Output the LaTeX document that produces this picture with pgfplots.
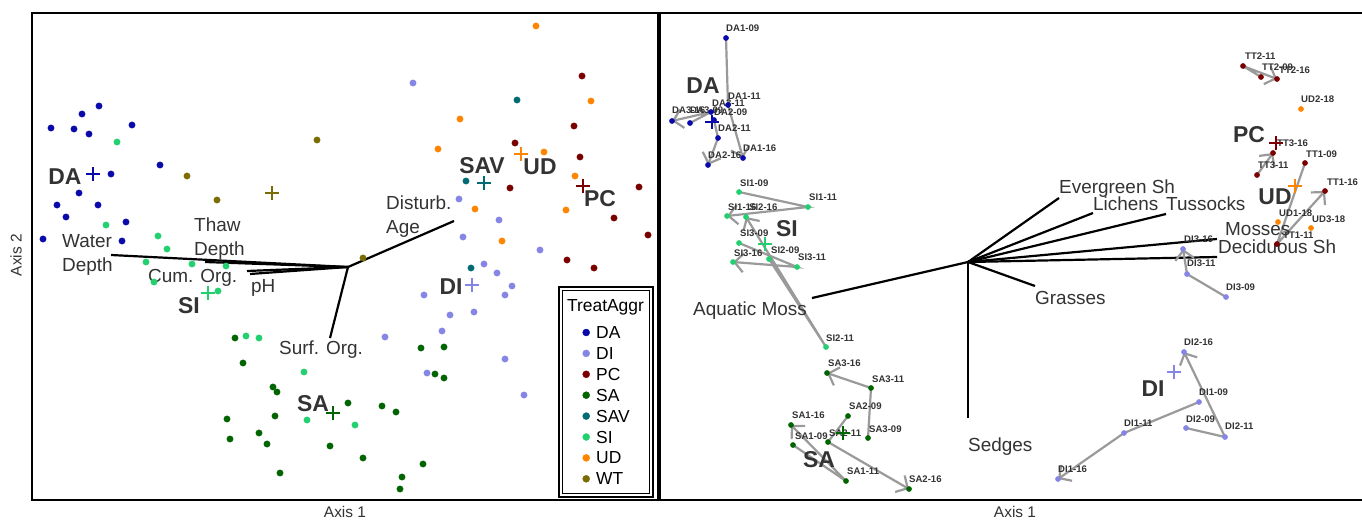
\documentclass[border=0pt]{standalone}
\usepackage{fontspec}
\setmainfont{Liberation Sans}
\usepackage{pgfplots}
\pgfplotsset{compat=1.18}
\usetikzlibrary{arrows.meta}
\definecolor{cDA}{HTML}{0A0AAA}
\definecolor{cDI}{HTML}{8585E6}
\definecolor{cPC}{HTML}{7A0000}
\definecolor{cSA}{HTML}{006400}
\definecolor{cSAV}{HTML}{006B73}
\definecolor{cSI}{HTML}{22D070}
\definecolor{cUD}{HTML}{FF8500}
\definecolor{cWT}{HTML}{7A6C00}
\definecolor{txt}{HTML}{333333}
\definecolor{arr}{HTML}{9A9A9A}
\newcommand{\vlab}{\fontsize{19}{24}\selectfont}
\newcommand{\glab}{\fontsize{23}{26}\selectfont\bfseries}
\newcommand{\plab}{\fontsize{9.6}{11}\selectfont\bfseries}
\newcommand{\alab}{\fontsize{15.5}{18}\selectfont}
\pgfplotsset{panel/.style={scale only axis, height=487bp, ymin=13, ymax=500, y dir=reverse,
  xtick=\empty, ytick=\empty, axis line style={line width=2.4bp}, clip=false}}
\tikzset{vl/.style={anchor=west, inner sep=0pt, text=txt, font=\vlab, align=left},
  gl/.style={inner sep=0pt, text=txt, font=\glab},
  pl/.style={anchor=west, inner sep=0pt, text=txt, font=\plab}}
\pgfplotsset{
  pts/.style={only marks, mark=*, mark size=3.2bp},
  cen/.style={only marks, mark=+, mark size=7bp, mark options={line width=1.5bp}, forget plot},
  vec/.style={black, line width=2.2bp, forget plot},
  traj/.style={arr, line width=2.2bp, -{Straight Barb[length=9bp,width=19bp]}, forget plot},
  rpts/.style={only marks, mark=*, mark size=2.6bp, forget plot}}
\begin{document}
\begin{tikzpicture}
\path[use as bounding box, fill=white] (0,0) rectangle (1362bp,524bp);
% ---------------- left panel ----------------
\begin{axis}[panel, at={(32bp,24bp)}, anchor=south west, width=626bp, xmin=32, xmax=658,
  legend style={at={(axis cs:582.5,325.3)}, anchor=north west, draw=none, fill=none, inner sep=0pt,
    font=\fontsize{17.5}{20}\selectfont, row sep=3.9bp, column sep=6.5bp,
    nodes={inner sep=0pt, text height=13bp, text depth=4bp, anchor=base west}},
  legend cell align=left,
  legend image code/.code={\draw[#1, mark size=3.5bp] plot coordinates {(3.5bp,6bp)};}]
% vectors
\addplot[vec] coordinates {(348,267) (111,255)};
\addplot[vec] coordinates {(348,267) (205,262)};
\addplot[vec] coordinates {(348,267) (247,271)};
\addplot[vec] coordinates {(348,267) (250,274)};
\addplot[vec] coordinates {(348,267) (454,221)};
\addplot[vec] coordinates {(348,267) (330,338)};
% points
\addplot[pts, cDA] coordinates {(99,106)(82,114)(51,128)(74,129)(89,134)(132,125)(160,165)(111,174)
  (79,193)(57,205)(98,205)(66,217)(126,222)(43,239)(122,241)};
\addlegendentry{DA}
\addplot[pts, cDI] coordinates {(413,83)(459,199)(499,220)(463,237)(540,250)(484,264)(497,273)(512,286)
  (505,295)(424,295)(474,312)(450,315)(442,331)(385,337)(505,359)(524,395)(427,373)};
\addlegendentry{DI}
\addplot[pts, cPC] coordinates {(582,76)(574,126)(515,143)(580,157)(510,188)(639,187)(614,218)(648,235)
  (567,260)(594,268)};
\addlegendentry{PC}
\addplot[pts, cSA] coordinates {(235,338)(243,363)(273,387)(277,392)(227,419)(275,416)(259,433)(230,439)
  (267,444)(330,446)(280,473)(348,403)(382,406)(396,412)(363,458)(423,464)(402,477)(400,489)
  (421,348)(444,347)(435,374)(444,378)};
\addlegendentry{SA}
\addplot[pts, cSAV] coordinates {(517,100)(466,181)(471,268)};
\addlegendentry{SAV}
\addplot[pts, cSI] coordinates {(117,142)(106,225)(158,236)(167,249)(146,262)(192,264)(226,266)(154,282)
  (218,291)(246,336)(259,338)(304,372)(307,420)(355,425)};
\addlegendentry{SI}
\addplot[pts, cUD] coordinates {(536,26)(591,101)(460,119)(438,149)(544,152)(575,176)(475,209)(566,210)
  (502,241)};
\addlegendentry{UD}
\addplot[pts, cWT] coordinates {(317,140)(187,176)(217,200)(363,258)};
\addlegendentry{WT}
% centroids
\addplot[cen, cDA] coordinates {(93,174)};
\addplot[cen, cDI] coordinates {(472,285)};
\addplot[cen, cPC] coordinates {(583,186)};
\addplot[cen, cSA] coordinates {(333,413)};
\addplot[cen, cSAV] coordinates {(484,183)};
\addplot[cen, cSI] coordinates {(208,293)};
\addplot[cen, cUD] coordinates {(521,154)};
\addplot[cen, cWT] coordinates {(272,193)};
% labels
\node[vl] at (axis cs:62,255) {Water\\Depth};
\node[vl] at (axis cs:194,239) {Thaw\\Depth};
\node[vl] at (axis cs:148,278) {Cum. Org.};
\node[vl] at (axis cs:251,288) {pH};
\node[vl] at (axis cs:386,217) {Disturb.\\Age};
\node[vl] at (axis cs:279,350) {Surf. Org.};
\node[gl] at (axis cs:65,177) {DA};
\node[gl] at (axis cs:189,306) {SI};
\node[gl] at (axis cs:313,404) {SA};
\node[gl] at (axis cs:482,166) {SAV};
\node[gl] at (axis cs:540,167) {UD};
\node[gl] at (axis cs:600,199) {PC};
\node[gl] at (axis cs:451,287) {DI};
% legend frame and title
\draw[line width=1.8bp, fill=white] (axis cs:558.9,286.9) rectangle (axis cs:652.6,496.6);
\draw[line width=1bp] (axis cs:562,290) rectangle (axis cs:649.5,493.5);
\node[anchor=base, inner sep=0pt, font=\fontsize{17.5}{20}\selectfont] at (axis cs:605.5,311) {TreatAggr};
\node[font=\alab, text=txt] at (axis cs:345,512) {Axis 1};
\node[font=\alab, text=txt, rotate=90] at (axis cs:16,255) {Axis 2};
\end{axis}
% ---------------- right panel ----------------
\begin{axis}[panel, at={(660bp,24bp)}, anchor=south west, width=704bp, xmin=660, xmax=1364]
\addplot[vec] coordinates {(968,262) (1059,198)};
\addplot[vec] coordinates {(968,262) (1093,213)};
\addplot[vec] coordinates {(968,262) (1166,214)};
\addplot[vec] coordinates {(968,262) (1217,239)};
\addplot[vec] coordinates {(968,262) (1217,257)};
\addplot[vec] coordinates {(968,262) (1035,286)};
\addplot[vec] coordinates {(968,262) (812,298)};
\addplot[vec] coordinates {(968,262) (968,418)};
% trajectories
\addplot[traj] coordinates {(726,38)(728,105)(743,158)};
\addplot[traj] coordinates {(714,120)(718,138)(708,165)};
\addplot[traj] coordinates {(690,123)(711,112)(672,121)};
\addplot[traj] coordinates {(739,192)(808,207)(727,216)};
\addplot[traj] coordinates {(769,259)(826,347)(746,217)};
\addplot[traj] coordinates {(739,243)(797,267)(733,262)};
\addplot[traj] coordinates {(793,445)(846,481)(791,425)};
\addplot[traj] coordinates {(848,416)(828,442)(909,489)};
\addplot[traj] coordinates {(868,438)(871,388)(827,373)};
\addplot[traj] coordinates {(1199,402)(1124,433)(1058,479)};
\addplot[traj] coordinates {(1186,428)(1225,437)(1184,352)};
\addplot[traj] coordinates {(1226,297)(1187,274)(1183,249)};
\addplot[traj] coordinates {(1305,163)(1277,244)(1325,191)};
\addplot[traj] coordinates {(1261,77)(1243,66)(1277,79)};
\addplot[traj] coordinates {(1257,175)(1273,153)};
% points
\addplot[rpts, cDA] coordinates {(726,38)(728,105)(743,158)(714,120)(718,138)(708,165)(690,123)(711,112)(672,121)};
\addplot[rpts, cSI] coordinates {(739,192)(808,207)(727,216)(769,259)(826,347)(746,217)(739,243)(797,267)(733,262)};
\addplot[rpts, cSA] coordinates {(793,445)(846,481)(791,425)(848,416)(828,442)(909,489)(868,438)(871,388)(827,373)};
\addplot[rpts, cDI] coordinates {(1199,402)(1124,433)(1058,479)(1186,428)(1225,437)(1184,352)(1226,297)(1187,274)(1183,249)};
\addplot[rpts, cPC] coordinates {(1305,163)(1277,244)(1325,191)(1261,77)(1243,66)(1277,79)(1257,175)(1273,153)};
\addplot[rpts, cUD] coordinates {(1278,222)(1301,109)(1311,228)};
% centroids
\addplot[cen, cDA] coordinates {(712,122)};
\addplot[cen, cSI] coordinates {(765,244)};
\addplot[cen, cSA] coordinates {(843,433)};
\addplot[cen, cDI] coordinates {(1174,372)};
\addplot[cen, cPC] coordinates {(1276,143)};
\addplot[cen, cUD] coordinates {(1295,186)};
% point labels
\node[pl] at (axis cs:726,28) {DA1-09};
\node[pl] at (axis cs:728,96) {DA1-11};
\node[pl] at (axis cs:743,148) {DA1-16};
\node[pl] at (axis cs:714,112) {DA2-09};
\node[pl] at (axis cs:718,128) {DA2-11};
\node[pl] at (axis cs:708,155) {DA2-16};
\node[pl] at (axis cs:690,110) {DA3-09};
\node[pl] at (axis cs:712,103) {DA3-11};
\node[pl] at (axis cs:672,110) {DA3-16};
\node[pl] at (axis cs:740,183) {SI1-09};
\node[pl] at (axis cs:809,197) {SI1-11};
\node[pl] at (axis cs:728,207) {SI1-16};
\node[pl] at (axis cs:771,250) {SI2-09};
\node[pl] at (axis cs:826,338) {SI2-11};
\node[pl] at (axis cs:749,207) {SI2-16};
\node[pl] at (axis cs:740,233) {SI3-09};
\node[pl] at (axis cs:798,257) {SI3-11};
\node[pl] at (axis cs:734,253) {SI3-16};
\node[pl] at (axis cs:795,436) {SA1-09};
\node[pl] at (axis cs:847,471) {SA1-11};
\node[pl] at (axis cs:792,415) {SA1-16};
\node[pl] at (axis cs:849,406) {SA2-09};
\node[pl] at (axis cs:829,433) {SA2-11};
\node[pl] at (axis cs:909,479) {SA2-16};
\node[pl] at (axis cs:869,429) {SA3-09};
\node[pl] at (axis cs:872,379) {SA3-11};
\node[pl] at (axis cs:828,363) {SA3-16};
\node[pl] at (axis cs:1199,392) {DI1-09};
\node[pl] at (axis cs:1124,423) {DI1-11};
\node[pl] at (axis cs:1058,469) {DI1-16};
\node[pl] at (axis cs:1186,419) {DI2-09};
\node[pl] at (axis cs:1225,426) {DI2-11};
\node[pl] at (axis cs:1184,342) {DI2-16};
\node[pl] at (axis cs:1226,287) {DI3-09};
\node[pl] at (axis cs:1187,263) {DI3-11};
\node[pl] at (axis cs:1184,239) {DI3-16};
\node[pl] at (axis cs:1306,154) {TT1-09};
\node[pl] at (axis cs:1283,235) {TT1-11};
\node[pl] at (axis cs:1327,182) {TT1-16};
\node[pl] at (axis cs:1262,67) {TT2-09};
\node[pl] at (axis cs:1245,56) {TT2-11};
\node[pl] at (axis cs:1279,70) {TT2-16};
\node[pl] at (axis cs:1258,165) {TT3-11};
\node[pl] at (axis cs:1277,143) {TT3-16};
\node[pl] at (axis cs:1279,213) {UD1-18};
\node[pl] at (axis cs:1301,99) {UD2-18};
\node[pl] at (axis cs:1312,219) {UD3-18};
% vector labels
\node[vl] at (axis cs:1059,189) {Evergreen Sh};
\node[vl] at (axis cs:1093,204) {Lichens};
\node[vl] at (axis cs:1166,204) {Tussocks};
\node[vl] at (axis cs:1225,229) {Mosses};
\node[vl] at (axis cs:1218,247) {Deciduous Sh};
\node[vl] at (axis cs:1035,298) {Grasses};
\node[vl] at (axis cs:693,311) {Aquatic Moss};
\node[vl] at (axis cs:968,447) {Sedges};
% group labels
\node[gl] at (axis cs:703,86) {DA};
\node[gl] at (axis cs:787,229) {SI};
\node[gl] at (axis cs:819,460) {SA};
\node[gl] at (axis cs:1153,389) {DI};
\node[gl] at (axis cs:1249,135) {PC};
\node[gl] at (axis cs:1275,197) {UD};
\node[font=\alab, text=txt] at (axis cs:1015,512) {Axis 1};
\end{axis}
\end{tikzpicture}
\end{document}
